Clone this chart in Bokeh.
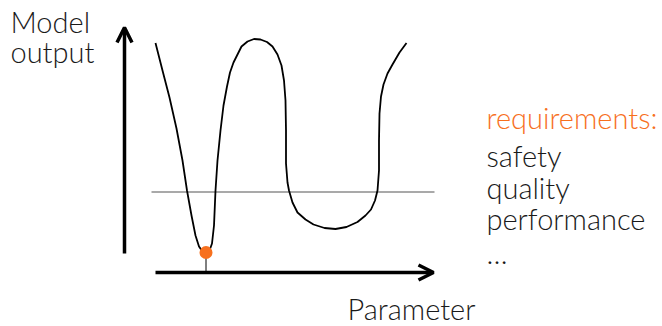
from bokeh.plotting import figure
from bokeh.models import Range1d, Arrow, OpenHead
from bokeh.core.properties import value
from bokeh.embed import file_html
from bokeh.resources import INLINE

# ---- data (schematic units: parameter vs model output) ----
param = [3.10, 3.80, 4.50, 5.20, 5.80, 6.25, 6.70, 7.10, 7.45, 7.80, 8.15, 8.50, 8.75, 8.95,
         9.10, 9.30, 9.60, 9.90, 10.25, 10.55, 10.90, 11.70, 12.30, 12.95, 13.60, 14.25,
         14.80, 15.30, 15.70, 15.95, 16.10, 16.15, 16.15, 16.30, 16.45, 16.80, 17.30, 18.10,
         18.90, 20.00, 21.10, 22.20, 23.30, 24.10, 24.65, 25.05, 25.30, 25.45, 25.45, 25.50,
         25.65, 25.90, 26.30, 26.80, 27.50, 28.20]
output = [22.95, 20.20, 17.50, 14.40, 11.20, 8.20, 5.70, 3.70, 2.60, 2.10, 2.00, 2.20, 2.90, 4.70,
          8.20, 11.20, 14.20, 16.70, 18.60, 20.00, 21.00, 22.60, 23.10, 23.35, 23.30, 23.05,
          22.60, 21.80, 20.70, 19.20, 17.20, 14.20, 10.90, 9.00, 8.20, 7.00, 6.00, 5.30,
          4.80, 4.45, 4.35, 4.55, 5.05, 5.70, 6.30, 7.20, 8.20, 10.20, 13.20, 15.90,
          17.60, 18.80, 19.90, 20.80, 22.00, 22.95]
optimum_param = 8.15
optimum_output = 2.0
threshold = 8.05
threshold_span = [2.7, 31.0]
y_axis_span = [1.9, 24.5]
x_axis_span = [3.1, 30.9]

y_label_lines = ["Model", "output"]
x_label = "Parameter"
req_title = "requirements:"
req_items = ["safety", "quality", "performance", "…"]

FONT = value("Lato Light")
FSIZE = "29px"
ORANGE = "#F7701E"
INK = "#1a1a1a"

p = figure(width=662, height=326, output_backend="svg", toolbar_location=None,
           x_range=Range1d(-12.4, 53.8), y_range=Range1d(-5.4, 27.2),
           min_border=0, outline_line_color=None)
p.axis.visible = False
p.grid.visible = False
p.background_fill_color = "white"
p.border_fill_color = "white"

# threshold line
p.line(threshold_span, [threshold, threshold], line_color="#555555", line_width=1.2)

# curve
p.line(param, output, line_color="black", line_width=1.8, line_join="round")

# tick from optimum to x axis
p.line([optimum_param, optimum_param], [0, optimum_output], line_color="black", line_width=1)

# axes arrows
p.add_layout(Arrow(end=OpenHead(size=15, line_width=3.5, line_color="black"),
                   x_start=0, y_start=y_axis_span[0], x_end=0, y_end=y_axis_span[1],
                   line_width=3.5, line_color="black"))
p.add_layout(Arrow(end=OpenHead(size=15, line_width=3.5, line_color="black"),
                   x_start=x_axis_span[0], y_start=0, x_end=x_axis_span[1], y_end=0,
                   line_width=3.5, line_color="black"))

# optimum dot
p.scatter([optimum_param], [optimum_output], size=13, fill_color=ORANGE, line_color=None)

# texts
p.text(x=[-11.4, -11.4], y=[25.1, 22.1], text=y_label_lines, text_font=FONT,
       text_font_size=FSIZE, text_color=INK, text_baseline="alphabetic", text_align="left")
p.text(x=[22.3], y=[-3.55], text=[x_label], text_font=FONT,
       text_font_size=FSIZE, text_color=INK, text_baseline="alphabetic", text_align="left")
p.text(x=[36.2], y=[15.55], text=[req_title], text_font=FONT,
       text_font_size=FSIZE, text_color=ORANGE, text_baseline="alphabetic", text_align="left")
p.text(x=[36.2] * 4, y=[11.75, 8.55, 5.45, 2.05], text=req_items, text_font=FONT,
       text_font_size=FSIZE, text_color=INK, text_baseline="alphabetic", text_align="left")

open("out.html", "w").write(file_html(p, INLINE))
